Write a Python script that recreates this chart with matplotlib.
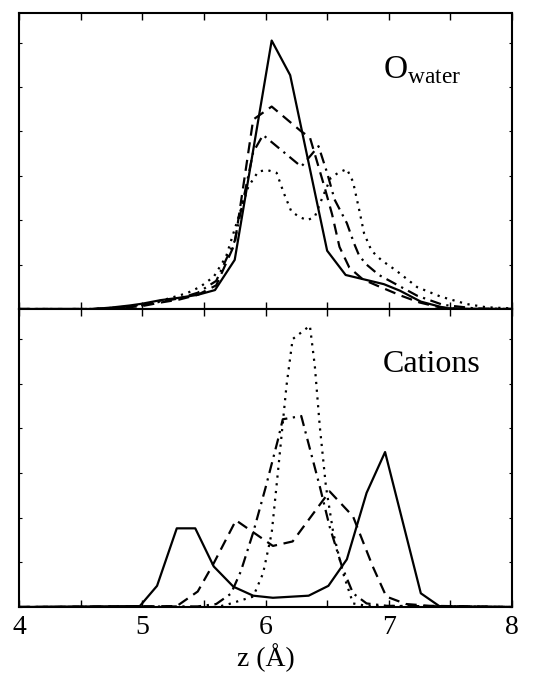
import matplotlib
matplotlib.use('Agg')
import matplotlib.pyplot as plt
from matplotlib.ticker import MultipleLocator

plt.rcParams['font.family'] = ['Liberation Serif', 'DejaVu Serif']
plt.rcParams['mathtext.fontset'] = 'custom'
plt.rcParams['mathtext.rm'] = 'Liberation Serif'

# O_water profiles (arbitrary units)
ow_z_solid = [4.0, 4.6, 4.75, 4.9, 5.0, 5.15, 5.3, 5.45, 5.59, 5.75, 6.05, 6.2, 6.5, 6.65,
              6.84, 6.96, 7.09, 7.26, 7.46, 7.7, 8.0]
ow_solid = [0, 0, 0.05, 0.12, 0.18, 0.30, 0.38, 0.48, 0.64, 1.66, 9.07, 7.9, 1.97, 1.15,
            0.96, 0.84, 0.62, 0.25, 0.03, 0, 0]

ow_z_dash = [4.0, 4.6, 4.8, 5.0, 5.15, 5.3, 5.45, 5.6, 5.75, 5.9, 6.05, 6.29, 6.36, 6.48,
             6.54, 6.6, 6.68, 6.79, 6.9, 7.1, 7.25, 7.4, 7.55, 8.0]
ow_dash = [0, 0, 0.03, 0.10, 0.22, 0.32, 0.48, 0.8, 2.2, 6.4, 6.84, 6.0, 5.8, 4.1,
           3.2, 2.1, 1.4, 1.0, 0.8, 0.45, 0.22, 0.07, 0.01, 0]

ow_z_dashdot = [4.0, 4.6, 4.8, 5.0, 5.15, 5.3, 5.45, 5.6, 5.75, 5.9, 5.98, 6.29, 6.43, 6.5,
                6.56, 6.66, 6.72, 6.76, 6.82, 6.92, 7.23, 7.44, 7.7, 8.0]
ow_dashdot = [0, 0, 0.05, 0.13, 0.25, 0.36, 0.55, 0.95, 2.3, 5.3, 5.88, 4.81, 5.5, 4.6,
              3.7, 2.9, 2.2, 1.8, 1.5, 1.15, 0.45, 0.14, 0.02, 0]

ow_z_dot = [4.0, 4.6, 4.8, 5.0, 5.15, 5.36, 5.47, 5.58, 5.68, 5.79, 5.86, 5.94, 6.01, 6.09,
            6.15, 6.21, 6.28, 6.34, 6.4, 6.46, 6.53, 6.59, 6.66, 6.71, 6.76, 6.8, 6.86,
            6.94, 7.06, 7.23, 7.42, 7.63, 7.79, 8.0]
ow_dot = [0, 0, 0.05, 0.15, 0.28, 0.53, 0.75, 1.09, 1.77, 3.23, 4.13, 4.64, 4.70, 4.6,
          3.9, 3.29, 3.1, 3.0, 3.12, 3.75, 4.44, 4.6, 4.73, 4.3, 3.35, 2.55, 1.97,
          1.65, 1.3, 0.74, 0.42, 0.17, 0.06, 0.02]

# cation profiles (arbitrary units)
cat_z_solid = [4.0, 4.98, 5.12, 5.28, 5.43, 5.58, 5.74, 5.9, 6.06, 6.35, 6.51, 6.66, 6.82,
               6.97, 7.26, 7.41, 8.0]
cat_solid = [0, 0.03, 0.71, 2.64, 2.64, 1.36, 0.68, 0.38, 0.31, 0.38, 0.71, 1.6, 3.83,
             5.2, 0.46, 0.03, 0]

cat_z_dash = [4.0, 5.28, 5.45, 5.58, 5.76, 6.06, 6.22, 6.52, 6.71, 6.87, 6.98, 7.14, 7.33, 8.0]
cat_dash = [0, 0.03, 0.52, 1.47, 2.91, 2.05, 2.2, 3.88, 3.04, 1.36, 0.35, 0.1, 0.04, 0]

cat_z_dashdot = [4.0, 5.45, 5.6, 5.72, 5.8, 5.9, 6.0, 6.1, 6.14, 6.29, 6.44, 6.52, 6.62,
                 6.71, 6.82, 6.98, 8.0]
cat_dashdot = [0, 0.02, 0.1, 0.45, 1.2, 2.5, 4.0, 5.6, 6.3, 6.41, 4.05, 2.7, 1.36,
               0.46, 0.12, 0.04, 0]

cat_z_dot = [4.0, 5.6, 5.68, 5.9, 5.98, 6.05, 6.1, 6.17, 6.22, 6.36, 6.4, 6.44, 6.49,
             6.55, 6.63, 6.71, 6.82, 8.0]
cat_dot = [0, 0, 0.07, 0.35, 1.13, 2.48, 4.5, 7.42, 8.99, 9.44, 8.09, 6.07, 4.05,
           2.48, 1.13, 0.12, 0.04, 0]

styles = {
    'solid': '-',
    'dash': (0, (5, 3)),
    'dashdot': (0, (5, 2.5, 1, 2.5)),
    'dot': (0, (1, 2.5)),
}

fig = plt.figure(figsize=(5.4, 6.89), dpi=100)
ax_top = fig.add_axes([0.0352, 0.5515, 0.913, 0.4296])
ax_bot = fig.add_axes([0.0352, 0.119, 0.913, 0.4325])

ax_top.plot(ow_z_solid, ow_solid, color='k', lw=1.6, linestyle=styles['solid'])
ax_top.plot(ow_z_dash, ow_dash, color='k', lw=1.6, linestyle=styles['dash'])
ax_top.plot(ow_z_dashdot, ow_dashdot, color='k', lw=1.6, linestyle=styles['dashdot'])
ax_top.plot(ow_z_dot, ow_dot, color='k', lw=1.6, linestyle=styles['dot'])

ax_bot.plot(cat_z_solid, cat_solid, color='k', lw=1.6, linestyle=styles['solid'])
ax_bot.plot(cat_z_dash, cat_dash, color='k', lw=1.6, linestyle=styles['dash'])
ax_bot.plot(cat_z_dashdot, cat_dashdot, color='k', lw=1.6, linestyle=styles['dashdot'])
ax_bot.plot(cat_z_dot, cat_dot, color='k', lw=1.6, linestyle=styles['dot'])

for ax in (ax_top, ax_bot):
    ax.set_xlim(4, 8)
    ax.set_ylim(0, 10)
    ax.xaxis.set_major_locator(MultipleLocator(1))
    ax.xaxis.set_minor_locator(MultipleLocator(0.5))
    ax.yaxis.set_major_locator(MultipleLocator(1.5))
    ax.tick_params(axis='x', which='both', direction='in', top=True, bottom=True,
                   length=5, width=1)
    ax.tick_params(axis='y', which='both', direction='in', left=True, right=True,
                   length=2, width=0.8, labelleft=False)
    for sp in ax.spines.values():
        sp.set_linewidth(1.5)

ax_top.tick_params(axis='x', labelbottom=False)
ax_bot.tick_params(axis='x', labelsize=20, pad=6)
ax_bot.set_xlabel('z (Å)', fontsize=20, labelpad=2)

ax_top.text(0.738, 0.78, r'$\mathrm{O}_{\mathrm{water}}$', transform=ax_top.transAxes,
            fontsize=24, va='baseline', ha='left')
ax_bot.text(0.738, 0.788, 'Cations', transform=ax_bot.transAxes,
            fontsize=23, va='baseline', ha='left')

fig.savefig('out.png', dpi=100)
